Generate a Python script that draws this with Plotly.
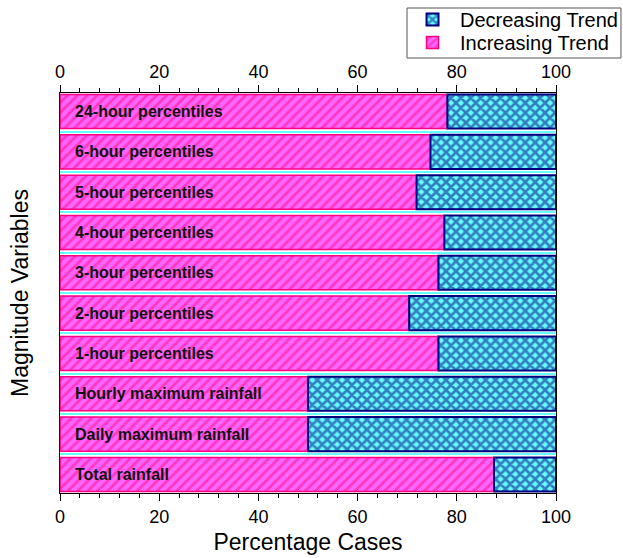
import plotly.graph_objects as go

categories = [
    "Total rainfall",
    "Daily maximum rainfall",
    "Hourly maximum rainfall",
    "1-hour percentiles",
    "2-hour percentiles",
    "3-hour percentiles",
    "4-hour percentiles",
    "5-hour percentiles",
    "6-hour percentiles",
    "24-hour percentiles",
]
increasing = [87.5, 50.0, 50.0, 76.3, 70.4, 76.3, 77.5, 71.9, 74.7, 78.1]
decreasing = [12.5, 50.0, 50.0, 23.7, 29.6, 23.7, 22.5, 28.1, 25.3, 21.9]
x_ticks = [0, 20, 40, 60, 80, 100]

FONT = "Liberation Sans, Arial, sans-serif"
ypos = list(range(len(categories)))

fig = go.Figure()
fig.add_trace(go.Bar(
    name="Increasing Trend", y=ypos, x=increasing, orientation="h", width=0.845,
    legend="legend2",
    marker=dict(color="#ff66ff", line=dict(color="#ff0080", width=1.5),
                pattern=dict(shape="/", fgcolor="#ff0a85", bgcolor="#ff66ff",
                             size=7, solidity=0.4)),
    hovertext=categories,
))
fig.add_trace(go.Bar(
    name="Decreasing Trend", y=ypos, x=decreasing, orientation="h", width=0.845,
    base=increasing, legend="legend",
    marker=dict(color="#66ffff", line=dict(color="#000080", width=2),
                pattern=dict(shape="x", fgcolor="#000080", bgcolor="#66ffff",
                             size=7, solidity=0.62)),
    hovertext=categories,
))
# invisible trace for top axis
fig.add_trace(go.Scatter(x=[x_ticks[0], x_ticks[-1]], y=[ypos[0], ypos[0]], xaxis="x2",
                         mode="markers", marker=dict(opacity=0), showlegend=False,
                         hoverinfo="skip"))

for yi, lab in zip(ypos, categories):
    fig.add_annotation(x=0, y=yi, xref="x", yref="y", text="<b>" + lab + "</b>",
                       showarrow=False, xanchor="left", xshift=13,
                       font=dict(family=FONT, size=16, color="#111111"))

axis_common = dict(
    range=[x_ticks[0], x_ticks[-1]], tickvals=x_ticks, ticks="outside", ticklen=7,
    tickwidth=1, tickcolor="black", showline=True, linecolor="black", linewidth=1,
    showgrid=False, zeroline=False, automargin=False,
    tickfont=dict(family=FONT, size=18, color="black"),
    minor=dict(dtick=4, tick0=0, ticks="outside", ticklen=4, tickcolor="black", showgrid=False),
)

legend_common = dict(xanchor="left", x=0.6956, yanchor="top", bgcolor="rgba(0,0,0,0)",
                     borderwidth=0, itemwidth=45,
                     font=dict(family=FONT, size=20, color="black"))

fig.update_layout(
    width=623, height=558,
    margin=dict(l=60, r=67, t=93, b=65, autoexpand=False),
    paper_bgcolor="white", plot_bgcolor="white",
    barmode="overlay",
    showlegend=True,
    xaxis=dict(**axis_common, side="bottom",
               title=dict(text="Percentage Cases", font=dict(family=FONT, size=23, color="black"),
                          standoff=8)),
    xaxis2=dict(**axis_common, side="top", overlaying="x", anchor="y"),
    yaxis=dict(range=[-0.46, len(categories) - 0.54], tickmode="linear", tick0=0.5, dtick=1,
               showticklabels=False, ticks="", showgrid=True, gridcolor="#66ffff", gridwidth=2,
               zeroline=False, showline=True, linecolor="black", linewidth=1, mirror=True,
               automargin=False,
               title=dict(text="Magnitude Variables", font=dict(family=FONT, size=23, color="black"),
                          standoff=23)),
    legend=dict(**legend_common, y=1.2325),
    legend2=dict(**legend_common, y=1.175),
    shapes=[dict(type="rect", xref="paper", yref="paper", x0=0.6996, x1=1.131,
                 y0=1.0875, y1=1.2125, line=dict(color="#555555", width=1),
                 fillcolor="rgba(0,0,0,0)", layer="above")],
)

fig.write_html("out.html", config={"displayModeBar": False},
               post_script="document.body.style.margin='0px';")
